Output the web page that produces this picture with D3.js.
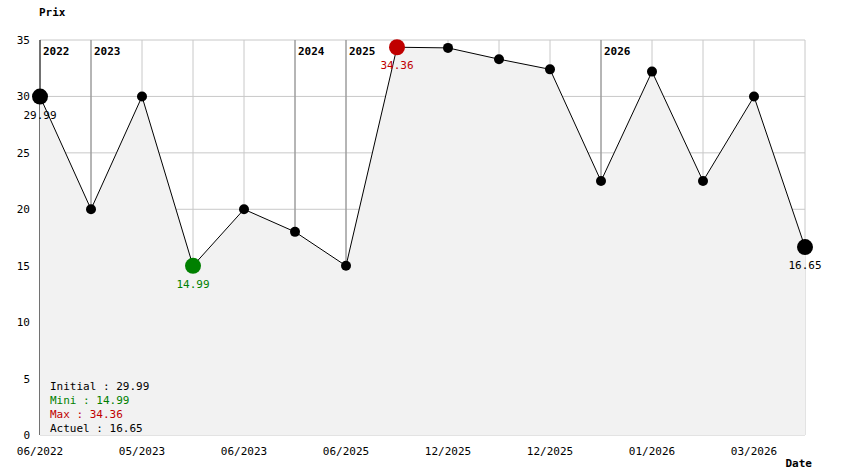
<!DOCTYPE html><html><head><meta charset="utf-8"><script src="https://cdn.jsdelivr.net/npm/d3@7"></script>
<style>body{margin:0;background:#fff}text{font-family:"DejaVu Sans Mono",monospace;font-size:11px}</style></head><body><svg id="c" width="844" height="474"></svg><script>
const values=[29.99,20,29.99,14.99,20,18,14.99,34.36,34.3,33.3,32.4,22.5,32.2,22.5,29.99,16.65];
const xLabels=["06/2022","05/2023","06/2023","06/2025","12/2025","12/2025","01/2026","03/2026"];
const years=[["2022",0],["2023",1],["2024",5],["2025",6],["2026",11]];
const yTicks=[0,5,10,15,20,25,30,35];
const svg=d3.select("#c");
const x=d3.scaleLinear().domain([0,values.length-1]).range([40,805]);
const y=d3.scaleLinear().domain([0,35]).range([435,40]);
const g=svg.append("g");
yTicks.forEach(t=>{g.append("line").attr("x1",40).attr("x2",805).attr("y1",y(t)).attr("y2",y(t)).attr("stroke","#c8c8c8");
 g.append("text").attr("x",30).attr("y",y(t)+4).attr("text-anchor","end").text(t);});
values.forEach((v,i)=>{g.append("line").attr("x1",x(i)).attr("x2",x(i)).attr("y1",40).attr("y2",435).attr("stroke","#c8c8c8");});
years.forEach(([t,i],k)=>{g.append("line").attr("x1",x(i)).attr("x2",x(i)).attr("y1",40).attr("y2",435).attr("stroke",k==0?"#000":"#888");});
g.append("path").datum(values).attr("fill","#f2f2f2").attr("d",d3.area().x((d,i)=>x(i)).y0(y(0)).y1(d=>y(d)));
years.forEach(([t,i])=>g.append("text").attr("x",x(i)+3).attr("y",55).attr("font-weight","bold").text(t));
xLabels.forEach((t,k)=>g.append("text").attr("x",x(k*2)).attr("y",455).attr("text-anchor","middle").text(t));
g.append("text").attr("x",39).attr("y",16).attr("font-weight","bold").text("Prix");
g.append("text").attr("x",812).attr("y",467).attr("text-anchor","end").attr("font-weight","bold").text("Date");
g.append("path").datum(values).attr("fill","none").attr("stroke","#000").attr("d",d3.line().x((d,i)=>x(i)).y(d=>y(d)));
const mn=d3.minIndex(values),mx=d3.maxIndex(values),last=values.length-1;
values.forEach((v,i)=>{let r=5,c="#000";
 if(i==0||i==last)r=8; if(i==mn){r=8;c="#008000";} if(i==mx){r=8;c="#c00000";}
 g.append("circle").attr("cx",x(i)).attr("cy",y(v)).attr("r",r).attr("fill",c);});
[[0,"#000"],[mn,"#008000"],[mx,"#c00000"],[last,"#000"]].forEach(([i,c])=>g.append("text").attr("x",x(i)).attr("y",y(values[i])+22).attr("text-anchor","middle").attr("fill",c).text(values[i].toFixed(2)));
[["Initial : "+values[0].toFixed(2),"#000"],["Mini : "+values[mn].toFixed(2),"#008000"],["Max : "+values[mx].toFixed(2),"#c00000"],["Actuel : "+values[last].toFixed(2),"#000"]].forEach(([t,c],k)=>g.append("text").attr("x",50).attr("y",390+k*14).attr("fill",c).text(t));
</script></body></html>
